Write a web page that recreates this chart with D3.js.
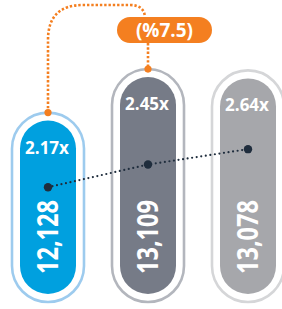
<!DOCTYPE html>
<html>
<head>
<meta charset="utf-8">
<script src="https://cdn.jsdelivr.net/npm/d3@7"></script>
<style>
  body { margin: 0; background: #fff; }
  text { font-family: "Open Sans", sans-serif; font-weight: 700; fill: #fff; }
</style>
</head>
<body>
<div class="chart"></div>
<script>
// chart data
var categories = ["a", "b", "c"];
var values = [12128, 13109, 13078];
var valueLabels = ["12,128", "13,109", "13,078"];
var multiples = [2.17, 2.45, 2.64];
var multipleLabels = ["2.17x", "2.45x", "2.64x"];
var changeLabel = "(%7.5)";

var width = 282, height = 309;

var fills = ["#00a0df", "#767b87", "#a6a7ab"],
    rims = ["#9dcbee", "#b3b6bd", "#d5d6d8"];
var orange = "#f47f20", navy = "#1f2d3d";

var svg = d3.select(".chart")
    .append("svg")
    .attr("width", width)
    .attr("height", height);

var x = d3.scalePoint()
    .domain(categories)
    .range([48, 248]);

// bar tops
var y = d3.scaleLinear()
    .domain([8200, 13200])
    .range([295, 73]);

// multiple dots
var m = d3.scaleLinear()
    .domain([2, 3])
    .range([201, 120]);

var base = 294, gap = 8, fillW = 56, rimW = 72;

var bars = svg.append("g")
    .selectAll("g")
    .data(categories)
    .enter().append("g");

// outline
bars.append("rect")
    .attr("x", function (d) { return x(d) - rimW / 2; })
    .attr("y", function (d, i) { return y(values[i]) - gap; })
    .attr("width", rimW)
    .attr("height", function (d, i) { return base + gap - (y(values[i]) - gap); })
    .attr("rx", rimW / 2)
    .style("fill", "none")
    .style("stroke", function (d, i) { return rims[i]; })
    .style("stroke-width", 2.6);

// fill
bars.append("rect")
    .attr("x", function (d) { return x(d) - fillW / 2; })
    .attr("y", function (d, i) { return y(values[i]); })
    .attr("width", fillW)
    .attr("height", function (d, i) { return base - y(values[i]); })
    .attr("rx", fillW / 2)
    .style("fill", function (d, i) { return fills[i]; });

bars.append("text")
    .attr("x", function (d) { return x(d) - 1; })
    .attr("y", function (d, i) { return y(values[i]) + 33; })
    .attr("text-anchor", "middle")
    .style("font-size", "17px")
    .text(function (d, i) { return multipleLabels[i]; });

bars.append("text")
    .attr("transform", function (d) { return "translate(" + (x(d) + 10) + "," + 274 + ") rotate(-90)"; })
    .attr("textLength", 74)
    .attr("lengthAdjust", "spacingAndGlyphs")
    .style("font-size", "28px")
    .text(function (d, i) { return valueLabels[i]; });

// multiples line
var line = d3.line()
    .x(function (d) { return x(d); })
    .y(function (d, i) { return m(multiples[i]); });

svg.append("path")
    .datum(categories)
    .attr("d", line)
    .style("fill", "none")
    .style("stroke", navy)
    .style("stroke-width", 2.2)
    .style("stroke-linecap", "round")
    .style("stroke-dasharray", "0 4.6");

svg.append("g")
    .selectAll("circle")
    .data(categories)
    .enter().append("circle")
    .attr("cx", function (d) { return x(d); })
    .attr("cy", function (d, i) { return m(multiples[i]); })
    .attr("r", 4.2)
    .style("fill", navy);

// change connector
var x1 = x(categories[0]), t1 = y(values[0]) - gap;
var x2 = x(categories[1]), t2 = y(values[1]) - gap;
var pillX = x2 - 31, pillY = 17, pillW = 95, pillH = 26, topY = 5, r = 35;

var conn = d3.path();
conn.moveTo(x1, t1);
conn.lineTo(x1, topY + r);
conn.quadraticCurveTo(x1, topY, x1 + r, topY);
conn.lineTo(x2 - 18, topY);
conn.quadraticCurveTo(x2 - 4, topY, x2 - 3, pillY);
conn.moveTo(x2, pillY + pillH);
conn.lineTo(x2, t2);

svg.append("path")
    .attr("d", conn.toString())
    .style("fill", "none")
    .style("stroke", orange)
    .style("stroke-width", 2.6)
    .style("stroke-dasharray", "2.4 1.9");

svg.append("rect")
    .attr("x", pillX)
    .attr("y", pillY)
    .attr("width", pillW)
    .attr("height", pillH)
    .attr("rx", pillH / 2)
    .style("fill", orange);

svg.append("text")
    .attr("x", pillX + pillW / 2)
    .attr("y", pillY + 20)
    .attr("text-anchor", "middle")
    .style("font-size", "19px")
    .text(changeLabel);

svg.selectAll(".odot")
    .data([[x1, t1], [x2, t2]])
    .enter().append("circle")
    .attr("cx", function (d) { return d[0]; })
    .attr("cy", function (d) { return d[1]; })
    .attr("r", 3.6)
    .style("fill", orange);
</script>
</body>
</html>
